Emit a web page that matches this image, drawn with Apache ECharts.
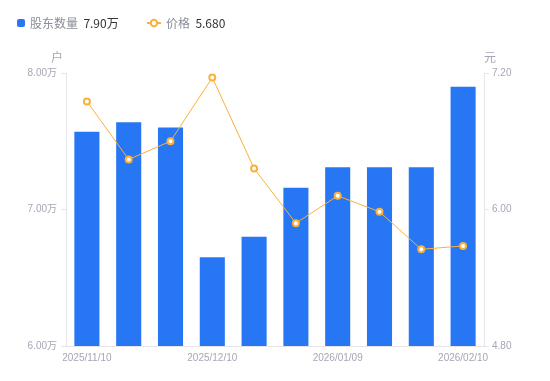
<!DOCTYPE html>
<html><head><meta charset="utf-8">
<script src="https://cdn.jsdelivr.net/npm/echarts@6/dist/echarts.min.js"></script>
<style>html,body{margin:0;padding:0;background:#fff}#c{width:550px;height:381px}</style>
</head><body><div id="c"></div>
<script>
const dates = ['2025/11/10','2025/11/20','2025/11/28','2025/12/10','2025/12/19','2025/12/31','2026/01/09','2026/01/20','2026/01/30','2026/02/10'];
const holders = [7.57, 7.64, 7.60, 6.65, 6.80, 7.16, 7.31, 7.31, 7.31, 7.90]; // 万户
const prices = [6.95, 6.44, 6.60, 7.16, 6.36, 5.88, 6.12, 5.98, 5.65, 5.68];
const leftTicks = {min: 6, max: 8, interval: 1};
const rightTicks = {min: 4.8, max: 7.2, interval: 1.2};
const holderName = '股东数量', priceName = '价格';
const holderLatest = '7.90万', priceLatest = '5.680';

const FONT = 'Noto Sans CJK SC, Noto Sans, sans-serif';
const AXFONT = '"Liberation Sans", "Noto Sans CJK SC", sans-serif';
const labelColor = '#a4a7b5';
const lineColor = '#e6e6ea';
const chart = echarts.init(document.getElementById('c'));
chart.setOption({
  animation: false,
  textStyle: {fontFamily: FONT},
  legend: [
    {left: 12, top: 12, itemWidth: 8, itemHeight: 8, itemGap: 6, data: [{name: holderName, icon: 'roundRect'}],
     formatter: n => '{a|' + n + '}  {b|' + holderLatest + '}',
     textStyle: {rich: {a: {color: '#8a8d99', fontSize: 12, fontFamily: FONT}, b: {color: '#333', fontSize: 12, fontFamily: FONT}}}},
    {left: 141, top: 12, itemWidth: 14, itemHeight: 8, data: [{name: priceName}],
     formatter: n => '{a|' + n + '}  {b|' + priceLatest + '}',
     textStyle: {rich: {a: {color: '#8a8d99', fontSize: 12, fontFamily: FONT}, b: {color: '#333', fontSize: 12, fontFamily: FONT}}}}
  ],
  grid: {left: 66, right: 66, top: 73, bottom: 35},
  xAxis: {type: 'category', data: dates, boundaryGap: true,
     axisLine: {lineStyle: {color: lineColor}}, axisTick: {show: false},
     axisLabel: {interval: 2, color: labelColor, fontSize: 10, margin: 7, fontFamily: AXFONT}},
  yAxis: [
    {type: 'value', position: 'left', min: leftTicks.min, max: leftTicks.max, interval: leftTicks.interval,
     name: '户', nameGap: 10, nameTextStyle: {color: labelColor, fontSize: 12, align: 'right', padding: [0, 3, 0, 0]},
     axisLine: {show: true, lineStyle: {color: lineColor}}, axisTick: {show: true, length: 5, lineStyle: {color: lineColor}},
     splitLine: {show: false},
     axisLabel: {color: labelColor, fontSize: 10, margin: 9, fontFamily: AXFONT, formatter: v => v.toFixed(2) + '万'}},
    {type: 'value', position: 'right', min: rightTicks.min, max: rightTicks.max, interval: rightTicks.interval,
     name: '元', nameGap: 10, nameTextStyle: {color: labelColor, fontSize: 12, align: 'left'},
     axisLine: {show: true, lineStyle: {color: lineColor}}, axisTick: {show: true, length: 5, lineStyle: {color: lineColor}},
     splitLine: {show: false},
     axisLabel: {color: labelColor, fontSize: 10, margin: 8, fontFamily: AXFONT, formatter: v => v.toFixed(2)}}
  ],
  series: [
    {name: holderName, type: 'bar', yAxisIndex: 0, data: holders, barWidth: '60%',
     itemStyle: {color: '#2777f5'}},
    {name: priceName, type: 'line', yAxisIndex: 1, data: prices, symbol: 'emptyCircle', symbolSize: 6,
     lineStyle: {color: '#fbb03b', width: 1}, itemStyle: {color: '#fbb03b', borderWidth: 2}}
  ]
});
</script></body></html>
